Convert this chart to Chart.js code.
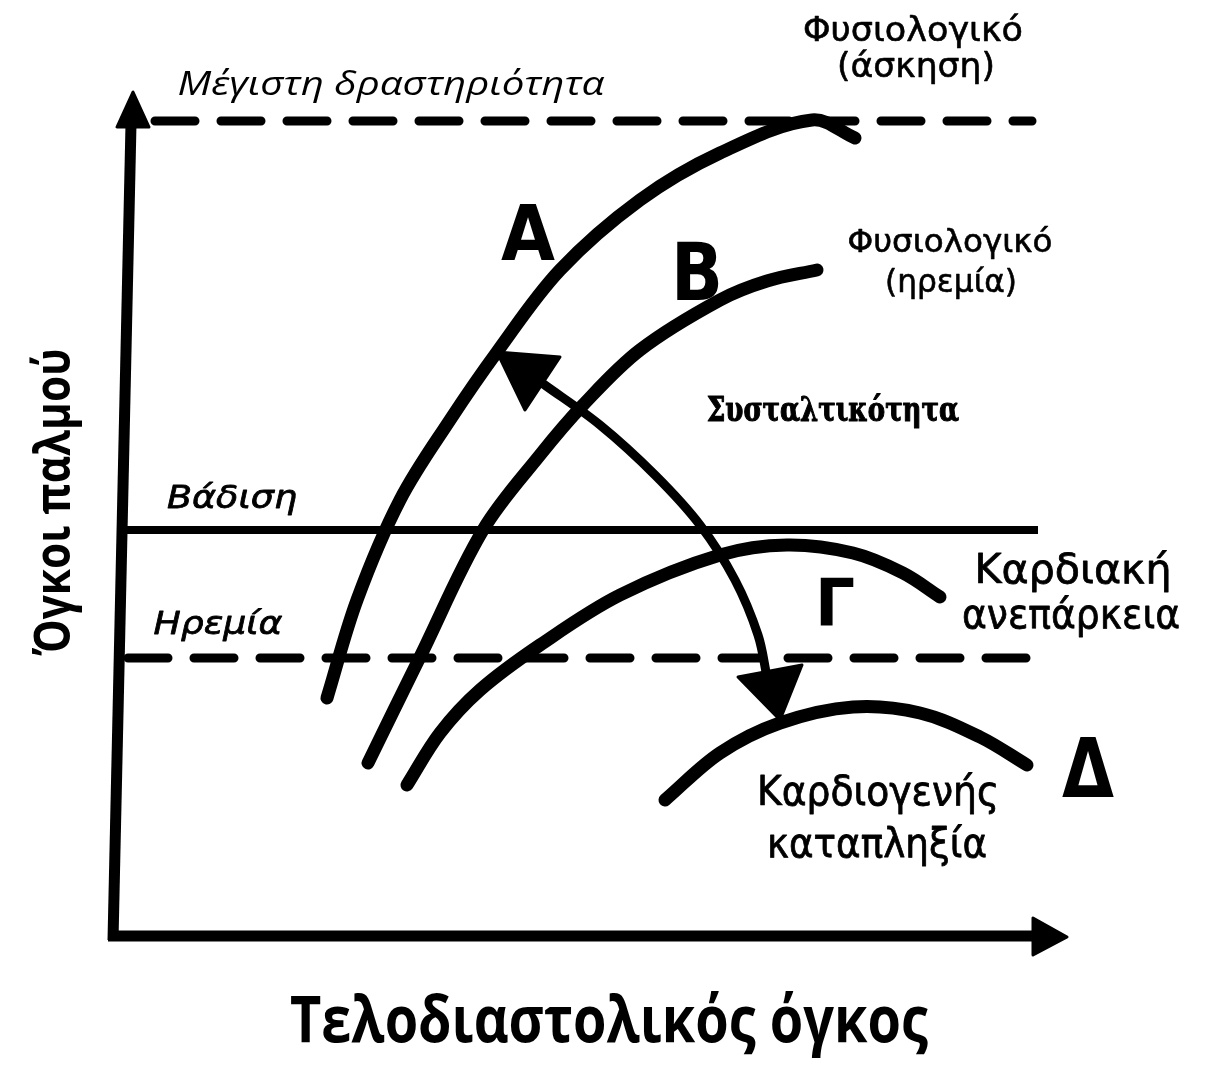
<!DOCTYPE html>
<html lang="el">
<head>
<meta charset="utf-8">
<title>Όγκος παλμού - τελοδιαστολικός όγκος</title>
<script src="https://cdn.jsdelivr.net/npm/chart.js@4.4.1/dist/chart.umd.min.js"></script>
<style>
  html, body { margin: 0; padding: 0; background: #fff; }
  #wrap { width: 1215px; height: 1088px; }
</style>
</head>
<body>
<div id="wrap"><canvas id="starling" width="1215" height="1088"></canvas></div>
<script>
(function () {
    "use strict";

    // x = τελοδιαστολικός όγκος, y = όγκος παλμού (αυθαίρετες μονάδες, 0 στη γωνία των αξόνων)
    var curveA = [[20.9, 23.7], [23.9, 33.5], [28.2, 43.5], [33.2, 51.5], [37.9, 58.3], [44.2, 66.5],
        [52.2, 73.5], [60.2, 78.2], [69.4, 81.5], [73.7, 79.7]];
    var curveB = [[25.0, 17.2], [30.2, 27.8], [36.5, 40.5], [42.2, 48.0], [46.5, 53.0], [52.2, 58.5],
        [60.2, 63.5], [64.9, 65.4], [69.9, 66.5]];
    var curveC = [[28.9, 15.0], [32.2, 20.2], [36.2, 24.5], [42.2, 29.0], [50.2, 34.0], [60.2, 38.0],
        [66.9, 39.0], [73.5, 38.2], [78.5, 36.2], [82.2, 33.8]];
    var curveD = [[54.7, 13.5], [60.2, 18.2], [66.2, 21.2], [73.5, 22.8], [80.2, 22.2], [86.2, 19.8], [90.9, 17.0]];
    var contractility = [[42.4, 55.2], [48.2, 51.0], [53.7, 46.0], [58.2, 41.0], [61.7, 35.5], [64.0, 30.0], [64.9, 25.8]];

    // οριζόντια επίπεδα: [y, x αρχής, x τέλους]
    var maxActivity = [81.4, 3.7, 91.4];
    var walking = [40.5, 0.3, 92.0];
    var rest = [27.7, 1.0, 92.0];

    var yAxisLine = [[-0.5, -0.5], [1.3, 81.1]];
    var xAxisLine = [[-1.0, -0.1], [92.2, -0.1]];
    var arrowHeads = [
        [[1.5, 84.3], [-0.1, 80.8], [3.1, 80.8]],
        [[94.9, -0.2], [91.5, 1.7], [91.5, -2.0]],
        [[37.9, 58.3], [44.2, 57.8], [40.7, 52.5]],
        [[62.0, 25.8], [68.4, 27.0], [66.2, 21.5]]
    ];

    var curveNames = ["A", "B", "Γ", "Δ"];
    var stateNames = [["Φυσιολογικό", "(άσκηση)"], ["Φυσιολογικό", "(ηρεμία)"], ["Καρδιακή", "ανεπάρκεια"], ["Καρδιογενής", "καταπληξία"]];
    var levelNames = ["Μέγιστη δραστηριότητα", "Βάδιση", "Ηρεμία"];
    var xTitle = "Τελοδιαστολικός όγκος";
    var yTitle = "Όγκοι παλμού";
    var arcTitle = "Συσταλτικότητα";

    function pts(arr) {
        return arr.map(function (p) { return {x: p[0], y: p[1]}; });
    }
    function level(l) {
        return [{x: l[1], y: l[0]}, {x: l[2], y: l[0]}];
    }
    function curve(label, arr, width) {
        return {
            label: label, data: pts(arr), showLine: true, pointRadius: 0, borderColor: "#000",
            borderWidth: width, tension: 0.35, borderCapStyle: "round",
            borderJoinStyle: "round", clip: false
        };
    }
    function straight(label, data, width, dash) {
        return {
            label: label, data: data, showLine: true, pointRadius: 0, borderColor: "#000",
            borderWidth: width, tension: 0, borderDash: dash || [], borderCapStyle: dash ? "round" : "butt", clip: false
        };
    }

    var sans = '"DejaVu Sans"';
    var labels = [
        {text: levelNames[0], at: [27.3, 84.0], font: 'italic 33px "Open Sans"', width: 427},
        {text: stateNames[0][0], at: [79.5, 89.4], font: "33px " + sans, width: 220, stroke: 0.6},
        {text: stateNames[0][1], at: [79.8, 85.8], font: "33px " + sans, width: 158, stroke: 0.6},
        {text: stateNames[1][0], at: [83.2, 68.3], font: "32px " + sans, width: 205, stroke: 0.6},
        {text: stateNames[1][1], at: [83.3, 64.3], font: "32px " + sans, width: 132, stroke: 0.6},
        {text: arcTitle, at: [71.5, 51.4], font: 'bold 34px "DejaVu Serif"', width: 252, stroke: 1.2},
        {text: stateNames[2][0], at: [95.5, 35.2], font: "41px " + sans, width: 197, stroke: 0.8},
        {text: stateNames[2][1], at: [95.3, 30.7], font: "41px " + sans, width: 218, stroke: 0.8},
        {text: stateNames[3][0], at: [76.0, 13.0], font: "41px " + sans, width: 242, stroke: 0.8},
        {text: stateNames[3][1], at: [75.9, 7.8], font: "41px " + sans, width: 220, stroke: 0.8},
        {text: levelNames[1], at: [11.4, 42.7], font: "italic 32px " + sans, width: 130, stroke: 0.8},
        {text: levelNames[2], at: [10.0, 30.1], font: "italic 32px " + sans, width: 129, stroke: 0.8},
        {text: curveNames[0], at: [41.0, 67.5], font: "bold 76px " + sans, width: 54},
        {text: curveNames[1], at: [57.9, 63.5], font: "bold 80px " + sans, width: 52},
        {text: curveNames[2], at: [71.7, 30.9], font: "bold 66px " + sans, width: 40},
        {text: curveNames[3], at: [97.0, 13.8], font: "bold 82px " + sans, width: 52},
        {text: yTitle, at: [-4.8, 43.3], font: 'bold 50px "Open Sans"', width: 307, rotate: -Math.PI / 2},
        {text: xTitle, at: [49.1, -10.7], font: 'bold 64px "Open Sans"', width: 638}
    ];

    var sketch = {
        id: "sketch",
        afterDatasetsDraw: function (chart, args, opts) {
            var ctx = chart.ctx, sx = chart.scales.x, sy = chart.scales.y;
            function px(p) { return [sx.getPixelForValue(p[0]), sy.getPixelForValue(p[1])]; }
            ctx.save();
            ctx.fillStyle = "#000";
            ctx.strokeStyle = "#000";
            ctx.lineJoin = "round";
            ctx.lineWidth = 3;
            opts.heads.forEach(function (tri) {
                ctx.beginPath();
                tri.forEach(function (p, i) {
                    var q = px(p);
                    if (i) { ctx.lineTo(q[0], q[1]); } else { ctx.moveTo(q[0], q[1]); }
                });
                ctx.closePath();
                ctx.fill();
                ctx.stroke();
            });
            opts.labels.forEach(function (l) {
                var q = px(l.at);
                ctx.save();
                ctx.font = l.font;
                var k = l.width / ctx.measureText(l.text).width;
                ctx.translate(q[0], q[1]);
                if (l.rotate) { ctx.rotate(l.rotate); }
                ctx.scale(k, 1);
                ctx.textAlign = "center";
                ctx.textBaseline = "alphabetic";
                ctx.fillText(l.text, 0, 0);
                if (l.stroke) {
                    ctx.lineWidth = l.stroke;
                    ctx.strokeText(l.text, 0, 0);
                }
                ctx.restore();
            });
            ctx.restore();
        }
    };

    var ctx = document.getElementById("starling");
    var myChart = new Chart(ctx, {
        type: "scatter",
        data: {
            datasets: [
                curve(curveNames[0], curveA, 13),
                curve(curveNames[1], curveB, 13),
                curve(curveNames[2], curveC, 13),
                curve(curveNames[3], curveD, 13),
                curve(arcTitle, contractility, 9),
                straight(levelNames[0], level(maxActivity), 9, [40, 26]),
                straight(levelNames[1], level(walking), 8),
                straight(levelNames[2], level(rest), 9, [40, 26]),
                straight(yTitle, pts(yAxisLine), 11),
                straight(xTitle, pts(xAxisLine), 11)
            ]
        },
        options: {
            responsive: false,
            animation: false,
            events: [],
            devicePixelRatio: 1,
            layout: {padding: 0},
            scales: {
                x: {type: "linear", display: false, min: -11.8, max: 109.7},
                y: {type: "linear", display: false, min: -15.3, max: 93.5}
            },
            plugins: {
                legend: {display: false},
                tooltip: {enabled: false},
                sketch: {heads: arrowHeads, labels: labels}
            }
        },
        plugins: [sketch]
    });
})();
</script>
</body>
</html>
